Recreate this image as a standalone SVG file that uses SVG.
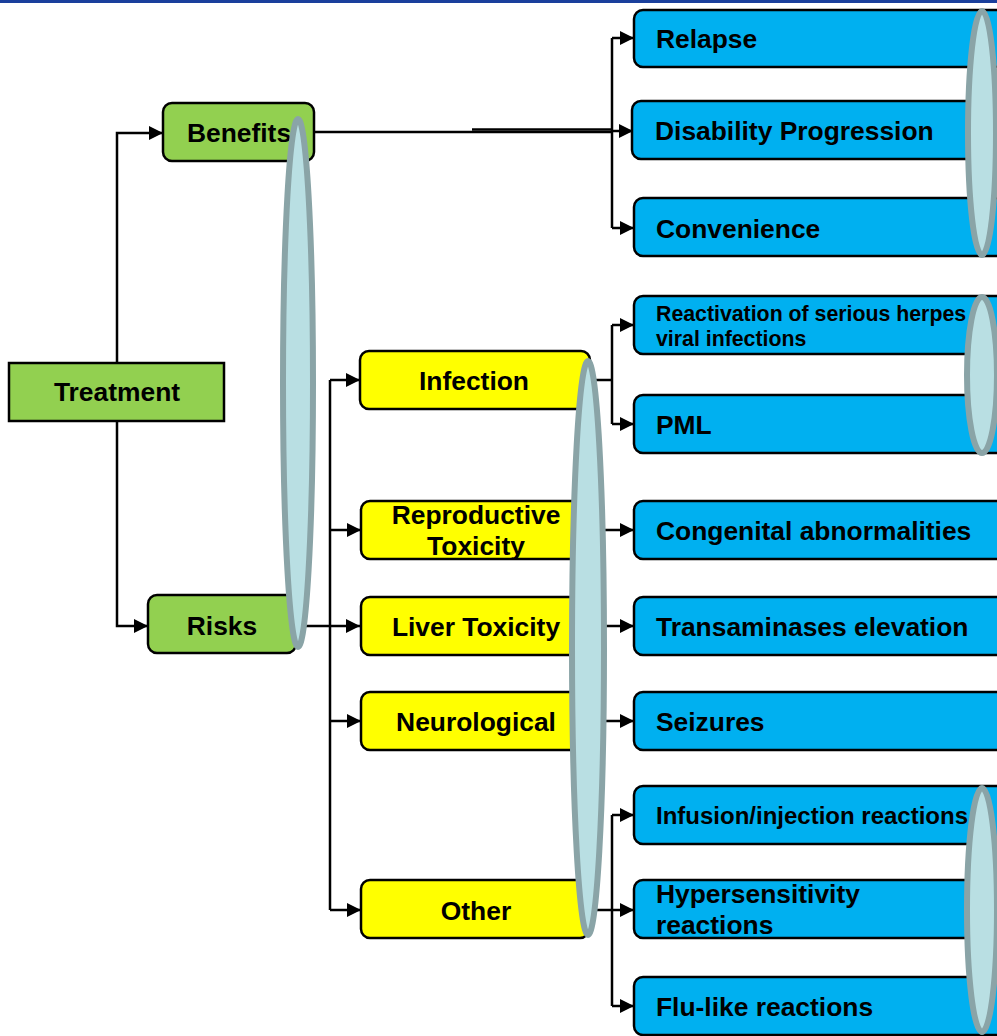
<svg xmlns="http://www.w3.org/2000/svg" width="997" height="1036" viewBox="0 0 997 1036">
<style>
text{font-family:"Liberation Sans",Arial,sans-serif;font-weight:bold;fill:#000;}
.t26{font-size:26.4px;}
.mid{text-anchor:middle;}
.green{fill:#92d050;stroke:#000;stroke-width:2.5;}
.yellow{fill:#ffff00;stroke:#000;stroke-width:2.5;}
.blue{fill:#00b0f0;stroke:#000;stroke-width:2.5;}
.conn path{fill:none;stroke:#000;stroke-width:2.5;}
.oval{fill:#b9dfe3;stroke:#8aa4a7;stroke-width:6;}
</style>
<defs>
<marker id="arr" markerUnits="userSpaceOnUse" markerWidth="16" markerHeight="16" refX="14" refY="7" orient="auto">
<path d="M0,0 L14,7 L0,14 z" fill="#000"/>
</marker>
</defs>
<rect x="0" y="0" width="997" height="3" fill="#1a3f9c"/>
<g id="connectors" class="conn">
<path d="M117,363 V133 H163" marker-end="url(#arr)"/>
<path d="M117,421 V626 H148" marker-end="url(#arr)"/>
<path d="M314,132 H612"/>
<path d="M472,129.5 H612"/>
<path d="M612,38 V228"/>
<path d="M612,38 H634" marker-end="url(#arr)"/>
<path d="M612,131 H633" marker-end="url(#arr)"/>
<path d="M612,228 H634" marker-end="url(#arr)"/>
<path d="M296,626 H360" marker-end="url(#arr)"/>
<path d="M330,380 V910"/>
<path d="M330,380 H360" marker-end="url(#arr)"/>
<path d="M330,530 H361" marker-end="url(#arr)"/>
<path d="M330,721 H361" marker-end="url(#arr)"/>
<path d="M330,910 H361" marker-end="url(#arr)"/>
<path d="M588,380 H612"/>
<path d="M612,325 V424"/>
<path d="M612,325 H634" marker-end="url(#arr)"/>
<path d="M612,424 H634" marker-end="url(#arr)"/>
<path d="M588,530 H634" marker-end="url(#arr)"/>
<path d="M588,626 H634" marker-end="url(#arr)"/>
<path d="M588,721 H634" marker-end="url(#arr)"/>
<path d="M588,910 H612"/>
<path d="M612,815 V1006"/>
<path d="M612,815 H634" marker-end="url(#arr)"/>
<path d="M612,910 H634" marker-end="url(#arr)"/>
<path d="M612,1006 H634" marker-end="url(#arr)"/>
</g>
<g id="treatment"><rect class="green" x="9" y="363" width="215" height="58"/><text class="t26 mid" x="117" y="401">Treatment</text></g>
<g id="benefits"><rect class="green" x="163" y="103" width="151" height="58" rx="9"/><text class="t26 mid" x="239" y="142">Benefits</text></g>
<g id="risks"><rect class="green" x="148" y="595" width="148" height="58" rx="9"/><text class="t26 mid" x="222" y="635">Risks</text></g>
<g id="infection"><rect class="yellow" x="360" y="351" width="230" height="58" rx="9"/><text class="t26 mid" x="474" y="390">Infection</text></g>
<g id="reproductive"><rect class="yellow" x="361" y="501" width="229" height="58" rx="9"/><text class="t26 mid" x="476" y="524">Reproductive</text><text class="t26 mid" x="476" y="555">Toxicity</text></g>
<g id="liver"><rect class="yellow" x="361" y="597" width="229" height="58" rx="9"/><text class="t26 mid" x="476" y="636">Liver Toxicity</text></g>
<g id="neurological"><rect class="yellow" x="361" y="692" width="229" height="58" rx="9"/><text class="t26 mid" x="476" y="731">Neurological</text></g>
<g id="other"><rect class="yellow" x="361" y="880" width="228" height="58" rx="9"/><text class="t26 mid" x="476" y="920">Other</text></g>
<g id="relapse"><rect class="blue" x="634" y="10" width="380" height="57" rx="9"/><text class="t26" x="656" y="48">Relapse</text></g>
<g id="disability"><rect class="blue" x="632" y="101" width="380" height="58" rx="9"/><text class="t26" x="655" y="140">Disability Progression</text></g>
<g id="convenience"><rect class="blue" x="634" y="198" width="380" height="58" rx="9"/><text class="t26" x="656" y="238">Convenience</text></g>
<g id="reactivation"><rect class="blue" x="634" y="296" width="380" height="58" rx="9"/><text x="656" y="321" font-size="21.3">Reactivation of serious herpes</text><text x="656" y="346" font-size="21.3">viral infections</text></g>
<g id="pml"><rect class="blue" x="634" y="395" width="380" height="58" rx="9"/><text class="t26" x="656" y="434">PML</text></g>
<g id="congenital"><rect class="blue" x="634" y="501" width="380" height="58" rx="9"/><text class="t26" x="656" y="540">Congenital abnormalities</text></g>
<g id="transaminases"><rect class="blue" x="634" y="597" width="380" height="58" rx="9"/><text class="t26" x="656" y="636">Transaminases elevation</text></g>
<g id="seizures"><rect class="blue" x="634" y="692" width="380" height="58" rx="9"/><text class="t26" x="656" y="731">Seizures</text></g>
<g id="infusion"><rect class="blue" x="634" y="786" width="380" height="58" rx="9"/><text x="656" y="824" font-size="24">Infusion/injection reactions</text></g>
<g id="hypersensitivity"><rect class="blue" x="634" y="880" width="380" height="58" rx="9"/><text class="t26" x="656" y="903">Hypersensitivity</text><text class="t26" x="656" y="934">reactions</text></g>
<g id="flulike"><rect class="blue" x="634" y="977" width="380" height="58" rx="9"/><text class="t26" x="656" y="1016">Flu-like reactions</text></g>
<g id="highlights">
<ellipse class="oval" cx="298" cy="383" rx="15" ry="264"/>
<ellipse class="oval" cx="588" cy="648" rx="16" ry="287"/>
<ellipse class="oval" cx="982" cy="133" rx="14" ry="122"/>
<ellipse class="oval" cx="982" cy="375" rx="15" ry="78"/>
<ellipse class="oval" cx="982" cy="910" rx="15" ry="122"/>
</g>
</svg>
